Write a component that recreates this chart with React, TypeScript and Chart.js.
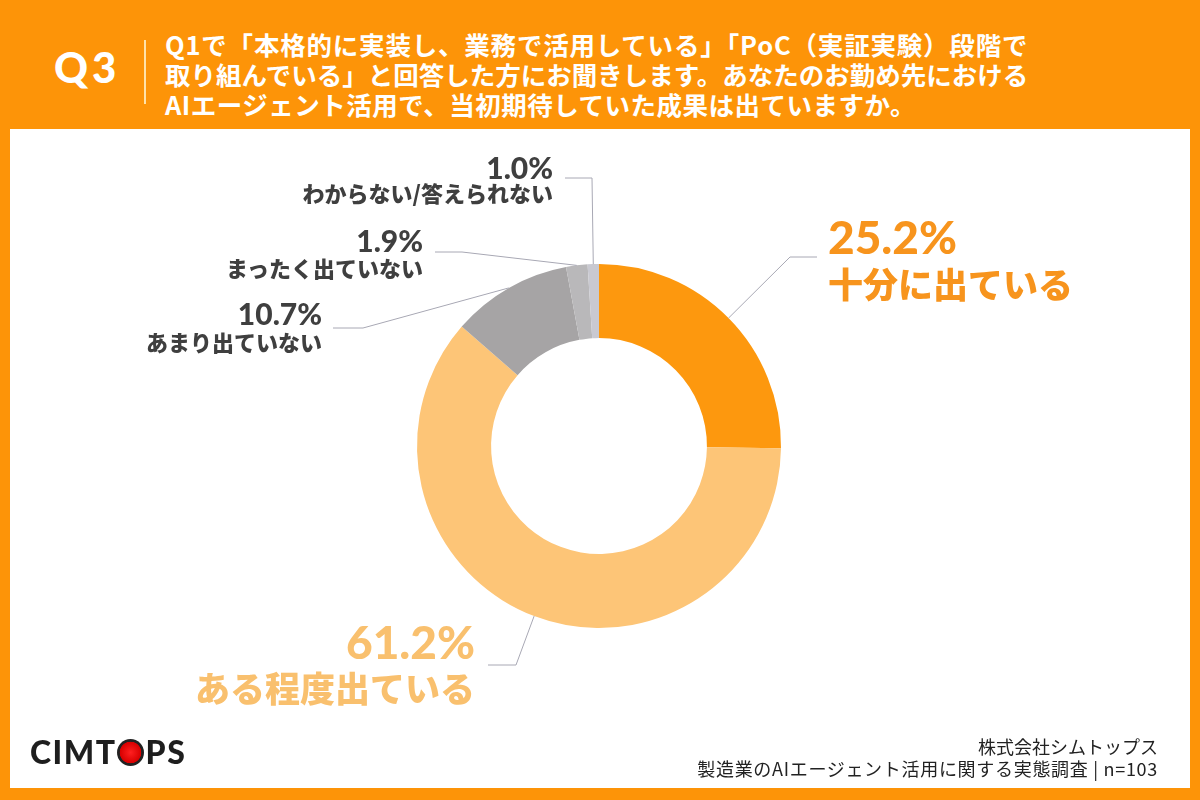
import React, { useEffect, useRef } from "react";
import { Chart, registerables } from "chart.js";

Chart.register(...registerables);

const categories = [
  "十分に出ている",
  "ある程度出ている",
  "あまり出ていない",
  "まったく出ていない",
  "わからない/答えられない",
];
const values = [25.2, 61.2, 10.7, 1.9, 1.0];
const valueLabels = ["25.2%", "61.2%", "10.7%", "1.9%", "1.0%"];
const sliceColors = ["#FD980E", "#FDC577", "#A6A4A5", "#B9B8BA", "#C9C9D1"];

const titleLines = [
  "Q1で「本格的に実装し、業務で活用している」「PoC（実証実験）段階で",
  "取り組んでいる」と回答した方にお聞きします。あなたのお勤め先における",
  "AIエージェント活用で、当初期待していた成果は出ていますか。",
];
const footerLines = ["株式会社シムトップス", "製造業のAIエージェント活用に関する実態調査 | n=103"];

// label layout (positions / styles only)
type LabelLayout = {
  side: "left" | "right";
  edge: number;
  numTop: number;
  textTop: number;
  numSize: number;
  textSize: number;
  color: string;
  elbowX: number;
  elbowY: number;
  endX: number;
};
const labelLayout: LabelLayout[] = [
  { side: "left", edge: 828, numTop: 214, textTop: 265, numSize: 46, textSize: 35, color: "#F7941D", elbowX: 790, elbowY: 257, endX: 817 },
  { side: "right", edge: 475, numTop: 619, textTop: 669, numSize: 46, textSize: 35, color: "#F9C06E", elbowX: 516, elbowY: 665, endX: 488 },
  { side: "right", edge: 322, numTop: 298, textTop: 330, numSize: 30, textSize: 22, color: "#3F3F3F", elbowX: 363, elbowY: 328, endX: 333 },
  { side: "right", edge: 423, numTop: 225, textTop: 256, numSize: 30, textSize: 22, color: "#3F3F3F", elbowX: 462, elbowY: 252, endX: 435 },
  { side: "right", edge: 553, numTop: 152, textTop: 181, numSize: 30, textSize: 22, color: "#3F3F3F", elbowX: 592, elbowY: 178, endX: 565 },
];

const ORANGE_BG = "#FD9408";

const leaderPlugin = {
  id: "leaders",
  afterDatasetsDraw(chart: any) {
    const ctx = chart.ctx;
    const meta = chart.getDatasetMeta(0);
    meta.data.forEach((arc: any, i: number) => {
      const p = arc.getProps(["x", "y", "startAngle", "endAngle", "outerRadius"], true);
      const mid = (p.startAngle + p.endAngle) / 2;
      const px = p.x + Math.cos(mid) * p.outerRadius;
      const py = p.y + Math.sin(mid) * p.outerRadius;
      const L = labelLayout[i];
      ctx.save();
      ctx.strokeStyle = "#A8A8B4";
      ctx.lineWidth = 1;
      ctx.beginPath();
      ctx.moveTo(px, py);
      ctx.lineTo(L.elbowX, L.elbowY);
      ctx.lineTo(L.endX, L.elbowY);
      ctx.stroke();
      ctx.restore();
    });
  },
};

const numFont = "Lato, 'Noto Sans', sans-serif";
const jpFont = "'Noto Sans CJK JP', 'Noto Sans', sans-serif";

export default function App() {
  const canvasRef = useRef<HTMLCanvasElement | null>(null);

  useEffect(() => {
    document.body.style.margin = "0";
    const canvas = canvasRef.current;
    if (!canvas) return;
    const chart = new Chart(canvas, {
      type: "doughnut",
      data: {
        labels: categories,
        datasets: [
          {
            data: values,
            backgroundColor: sliceColors,
            borderWidth: 0,
          },
        ],
      },
      options: {
        responsive: false,
        animation: false,
        cutout: "59.3%",
        layout: { padding: { top: 264, bottom: 172, left: 417, right: 419 } },
        plugins: {
          legend: { display: false },
          tooltip: { enabled: false },
        },
      },
      plugins: [leaderPlugin],
    });
    return () => chart.destroy();
  }, []);

  return (
    <div
      style={{
        position: "absolute",
        left: 0,
        top: 0,
        width: 1200,
        height: 800,
        background: ORANGE_BG,
        overflow: "hidden",
      }}
    >
      {/* header */}
      <div
        style={{
          position: "absolute",
          left: 54,
          top: 46,
          fontFamily: numFont,
          fontWeight: 900,
          fontSize: 42,
          lineHeight: "42px",
          letterSpacing: 4,
          color: "#fff",
        }}
      >
        Q3
      </div>
      <div
        style={{
          position: "absolute",
          left: 144,
          top: 40,
          width: 1.5,
          height: 64,
          background: "rgba(255,245,210,0.8)",
        }}
      />
      <div
        style={{
          position: "absolute",
          left: 165,
          top: 29,
          fontFamily: jpFont,
          fontWeight: 700,
          fontSize: 25.5,
          lineHeight: "30px",
          color: "#fff",
          whiteSpace: "nowrap",
        }}
      >
        {titleLines.map((t, i) => (
          <div key={i} style={{ letterSpacing: i === 0 ? 0.8 : i === 2 ? 0.5 : 0 }}>
            {t}
          </div>
        ))}
      </div>

      {/* white panel */}
      <div
        style={{
          position: "absolute",
          left: 10,
          top: 129,
          width: 1180,
          height: 659,
          background: "#FFFFFF",
        }}
      />

      <canvas ref={canvasRef} width={1200} height={800} style={{ position: "absolute", left: 0, top: 0 }} />

      {/* labels */}
      {labelLayout.map((L, i) => {
        const pos: React.CSSProperties =
          L.side === "left" ? { left: L.edge, textAlign: "left" } : { right: 1200 - L.edge, textAlign: "right" };
        return (
          <React.Fragment key={i}>
            <div
              style={{
                position: "absolute",
                top: L.numTop,
                ...pos,
                fontFamily: numFont,
                fontWeight: 900,
                fontSize: L.numSize,
                lineHeight: 1,
                color: L.color,
                whiteSpace: "nowrap",
              }}
            >
              {valueLabels[i]}
            </div>
            <div
              style={{
                position: "absolute",
                top: L.textTop,
                ...pos,
                fontFamily: jpFont,
                fontWeight: 900,
                fontSize: L.textSize,
                lineHeight: 1,
                color: L.color,
                whiteSpace: "nowrap",
              }}
            >
              {categories[i]}
            </div>
          </React.Fragment>
        );
      })}

      {/* footer */}
      <div
        style={{
          position: "absolute",
          left: 30,
          top: 735,
          fontFamily: numFont,
          fontWeight: 900,
          fontSize: 32,
          lineHeight: "34px",
          color: "#1E1E1E",
          letterSpacing: 1.5,
          whiteSpace: "nowrap",
        }}
      >
        CIMT
        <span
          style={{
            display: "inline-block",
            width: 27,
            height: 27,
            borderRadius: "50%",
            background: "radial-gradient(circle, #FF2020 0%, #D80000 55%, #222 58%, #222 100%)",
            color: "transparent",
            verticalAlign: "-2px",
            margin: "0 2px 0 0",
            lineHeight: "27px",
            overflow: "hidden",
          }}
        >
          O
        </span>
        PS
      </div>
      <div
        style={{
          position: "absolute",
          right: 42,
          top: 735,
          fontFamily: jpFont,
          fontWeight: 400,
          fontSize: 18,
          lineHeight: "22px",
          color: "#222",
          textAlign: "right",
          whiteSpace: "nowrap",
        }}
      >
        {footerLines.map((t, i) => (
          <div key={i} style={{ letterSpacing: i === 1 ? 0.7 : 0 }}>
            {t}
          </div>
        ))}
      </div>
    </div>
  );
}
